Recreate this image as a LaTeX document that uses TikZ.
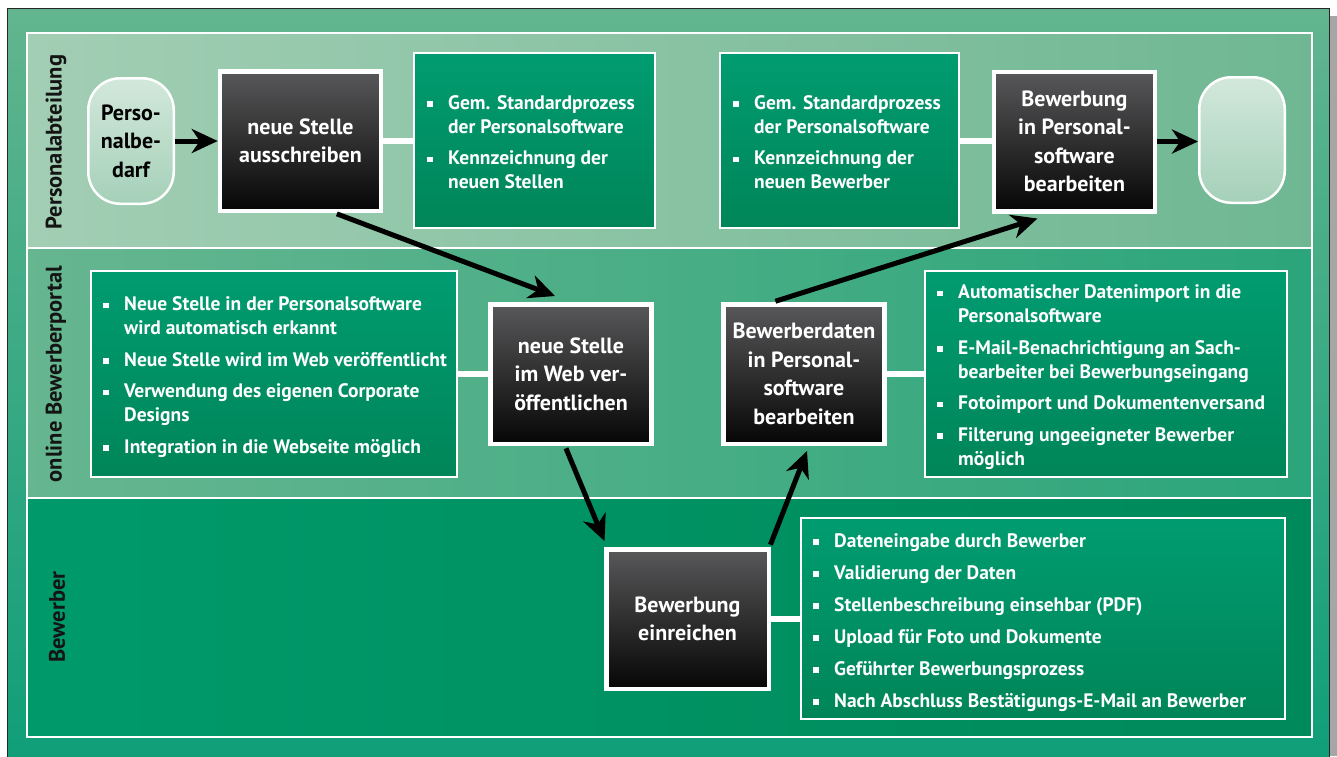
\documentclass[tikz,border=0pt]{standalone}
\usepackage{fontspec}
\setmainfont{PT Sans}
\usetikzlibrary{arrows.meta}
\definecolor{outerTop}{HTML}{62B58F}
\definecolor{outerBot}{HTML}{0E9E78}
\definecolor{laneAL}{HTML}{A2CEB4}
\definecolor{laneAR}{HTML}{6FB793}
\definecolor{laneBL}{HTML}{66B690}
\definecolor{laneBR}{HTML}{2BA57B}
\definecolor{laneCL}{HTML}{009A6A}
\definecolor{laneCR}{HTML}{00895A}
\definecolor{gTop}{HTML}{009C70}
\definecolor{gBot}{HTML}{008558}
\definecolor{pTop}{HTML}{D2E8DB}
\definecolor{pBot}{HTML}{A5D0B8}
\definecolor{dTop}{HTML}{58585A}
\definecolor{dBot}{HTML}{060606}
\newcommand{\boxfont}{\fontsize{22}{28.5}\bfseries\selectfont}
\newcommand{\bulfont}{\fontsize{19.5}{24}\bfseries\selectfont}
\newcommand{\lanefont}{\fontsize{22.5}{26}\bfseries\selectfont}
\newcommand{\bu}{\makebox[21pt][l]{\raisebox{2.4pt}{\rule{5.5pt}{5.5pt}}}}
\newcommand{\cu}{\hspace*{21pt}}
\tikzset{
  stepbox/.style={draw=white, line width=4.5pt, top color=dTop, bottom color=dBot,
    text=white, font=\boxfont, align=center, minimum width=161pt,
    minimum height=139.5pt, inner sep=0pt},
  bulbox/.style={draw=white, line width=2pt, top color=gTop, bottom color=gBot, inner sep=0pt},
  bultext/.style={anchor=west, align=left, text=white, font=\bulfont, inner sep=0pt},
  termbox/.style={draw=white, line width=2.5pt, top color=pTop, bottom color=pBot,
    rounded corners=32pt, minimum width=85.5pt, minimum height=125.5pt,
    font=\boxfont, align=center, text=black, inner sep=0pt},
  lanelbl/.style={rotate=90, font=\lanefont, text=black!92, inner sep=0pt},
  conn/.style={draw=white, line width=6pt},
  arr/.style={draw=black, line width=5pt, -{Stealth[length=26pt,width=24pt,inset=8pt]}}
}
\begin{document}
\begin{tikzpicture}[x=1pt,y=-1pt]
\useasboundingbox (0,0) rectangle (1337,756);
% shadow and frame
\fill[black!35] (1318,16) rectangle (1337,756);
\draw[draw=black!85, line width=1.5pt, top color=outerTop, bottom color=outerBot]
  (7.5,8.5) rectangle (1329.5,772);
% lanes
\path[left color=laneAL, right color=laneAR] (27,33) rectangle (1312,248);
\path[left color=laneBL, right color=laneBR] (27,248) rectangle (1312,498);
\path[left color=laneCL, right color=laneCR] (27,498) rectangle (1312,737);
\draw[white, line width=2pt] (27,33) rectangle (1312,737);
\draw[white, line width=2pt] (27,248) -- (1312,248);
\draw[white, line width=2pt] (27,498) -- (1312,498);
% lane labels
\node[lanelbl] (L1) at (56,142) {Personalabteilung};
\node[lanelbl] (L2) at (56,374) {online Bewerberportal};
\node[lanelbl] (L3) at (57,617) {Bewerber};
% lane 1
\node[termbox] (pb) at (131,141) {Perso-\\nalbe-\\darf};
\node[stepbox] (s1) at (300.5,141) {neue Stelle\\ausschreiben};
\node[bulbox, minimum width=241pt, minimum height=175pt] (b1) at (534.5,140.5) {};
\node[bultext] (b1t) at ([xshift=14pt,yshift=-1.5pt]b1.west)
  {\bu Gem. Standardprozess\\ \cu der Personalsoftware\\[7.5pt]
   \bu Kennzeichnung der\\ \cu neuen Stellen};
\node[bulbox, minimum width=239pt, minimum height=175pt] (b2) at (839.5,140.5) {};
\node[bultext] (b2t) at ([xshift=14pt,yshift=-1.5pt]b2.west)
  {\bu Gem. Standardprozess\\ \cu der Personalsoftware\\[7.5pt]
   \bu Kennzeichnung der\\ \cu neuen Bewerber};
\node[stepbox] (s2) at (1074.5,141.5) {Bewerbung\\in Personal-\\software\\bearbeiten};
\node[termbox] (en) at (1242,140) {};
% lane 2
\node[bulbox, minimum width=366pt, minimum height=206pt] (b3) at (274,374) {};
\node[bultext] (b3t) at ([xshift=13pt,yshift=-3pt]b3.west)
  {\bu Neue Stelle in der Personalsoftware\\ \cu wird automatisch erkannt\\[7.5pt]
   \bu Neue Stelle wird im Web veröffentlicht\\[7.5pt]
   \bu Verwendung des eigenen Corporate\\ \cu Designs\\[7.5pt]
   \bu Integration in die Webseite möglich};
\node[stepbox] (s3) at (571,374) {neue Stelle\\im Web ver-\\öffentlichen};
\node[stepbox] (s4) at (804,374) {Bewerberdaten\\in Personal-\\software\\bearbeiten};
\node[bulbox, minimum width=362pt, minimum height=206pt] (b4) at (1106,374) {};
\node[bultext] (b4t) at ([xshift=13pt,yshift=-3pt]b4.west)
  {\bu Automatischer Datenimport in die\\ \cu Personalsoftware\\[7.5pt]
   \bu E-Mail-Benachrichtigung an Sach-\\ \cu bearbeiter bei Bewerbungseingang\\[7.5pt]
   \bu Fotoimport und Dokumentenversand\\[7.5pt]
   \bu Filterung ungeeigneter Bewerber\\ \cu möglich};
% lane 3
\node[stepbox, minimum width=162.5pt] (s5) at (687.5,619) {Bewerbung\\einreichen};
\node[bulbox, minimum width=484pt, minimum height=201pt] (b5) at (1043,618.5) {};
\node[bultext] (b5t) at ([xshift=13pt,yshift=-4pt]b5.west)
  {\bu Dateneingabe durch Bewerber\\[8pt]
   \bu Validierung der Daten\\[8pt]
   \bu Stellenbeschreibung einsehbar (PDF)\\[8pt]
   \bu Upload für Foto und Dokumente\\[8pt]
   \bu Geführter Bewerbungsprozess\\[8pt]
   \bu Nach Abschluss Bestätigungs-E-Mail an Bewerber};
% connectors
\draw[conn] (s1.east) -- (s1.east -| b1.west);
\draw[conn] (b2.east) -- (b2.east -| s2.west);
\draw[conn] (b3.east) -- (b3.east -| s3.west);
\draw[conn] (s4.east) -- (s4.east -| b4.west);
\draw[conn] (s5.east) -- (s5.east -| b5.west);
% arrows
\draw[arr] (pb.east) -- (pb.east -| s1.west);
\draw[arr] (s2.east) -- (s2.east -| en.west);
\draw[arr, shorten <=2.5pt] ([xshift=34pt]s1.south) -- ([xshift=-16pt,yshift=6pt]s3.north);
\draw[arr, shorten <=2.5pt] ([xshift=-6pt]s3.south) -- ([xshift=-83pt,yshift=6pt]s5.north);
\draw[arr, shorten <=2.5pt] ([xshift=82pt]s5.north) -- ([xshift=3pt,yshift=-5pt]s4.south);
\draw[arr, shorten <=2.5pt] ([xshift=-31pt]s4.north) -- ([xshift=-37pt,yshift=-5pt]s2.south);
\end{tikzpicture}
\end{document}
